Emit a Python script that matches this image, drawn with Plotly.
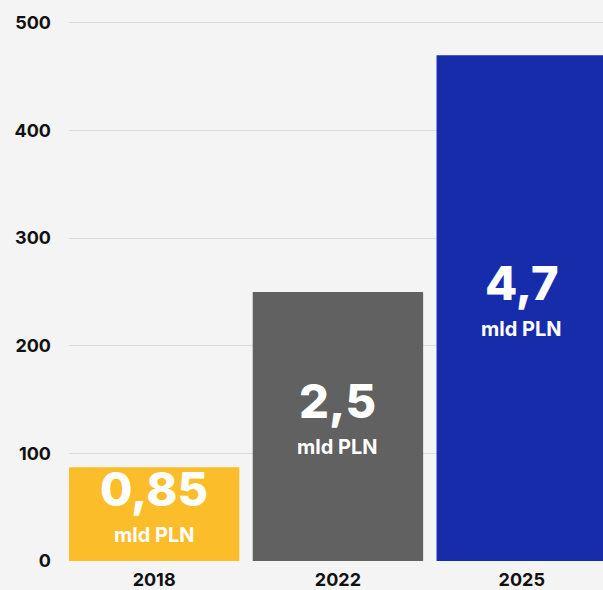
import plotly.graph_objects as go

years = ["2018", "2022", "2025"]
values = [87, 250, 470]
big_labels = ["0,85", "2,5", "4,7"]
unit_label = "mld PLN"
colors = ["#FCBD2B", "#616161", "#172CAA"]
y_ticks = [0, 100, 200, 300, 400, 500]

FONT = "Inter, Poppins, Roboto, sans-serif"

fig = go.Figure()
fig.add_trace(go.Bar(
    x=years, y=values, marker=dict(color=colors, line=dict(width=0)),
    width=0.927, hoverinfo="skip",
))

for i, (v, lab) in enumerate(zip(values, big_labels)):
    fig.add_annotation(x=i, y=v / 2, xref="x", yref="y", text=lab, showarrow=False,
                       yshift=26, yanchor="middle",
                       font=dict(family=FONT, size=47, color="white", weight=800))
    fig.add_annotation(x=i, y=v / 2, xref="x", yref="y", text=unit_label, showarrow=False,
                       yshift=-21, yanchor="middle",
                       font=dict(family=FONT, size=20, color="white", weight=700))

fig.update_layout(
    width=603, height=590,
    margin=dict(l=69, r=0, t=10, b=29),
    paper_bgcolor="#F4F4F4", plot_bgcolor="#F4F4F4",
    showlegend=False,
)
fig.update_xaxes(
    type="category", range=[-0.463, 2.442], showgrid=False, zeroline=False,
    showline=False, ticks="", ticklabelstandoff=6,
    tickfont=dict(family=FONT, size=18, color="#111111", weight=700),
)
fig.update_yaxes(
    range=[0, 512], tickvals=y_ticks, showgrid=True, gridcolor="#DCDCDC",
    gridwidth=1, zeroline=False, showline=False, ticks="",
    ticklabelstandoff=17,
    tickfont=dict(family=FONT, size=18, color="#111111", weight=700),
)

fig.write_html(
    "out.html",
    config={"displayModeBar": False},
    post_script="document.body.style.margin='0';document.body.style.overflow='hidden';document.body.style.background='#F4F4F4';",
)
